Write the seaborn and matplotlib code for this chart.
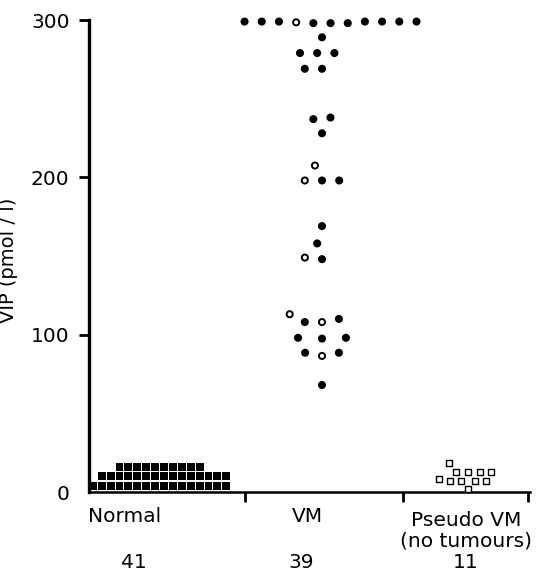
import matplotlib
matplotlib.use("Agg")
import matplotlib.pyplot as plt
import numpy as np
import seaborn as sns

# plasma VIP (pmol/l), one value per subject
normal_vip = [4, 4, 4, 4, 4, 4, 4, 4, 4, 4, 4, 4, 4, 4, 4, 4,
              10, 10, 10, 10, 10, 10, 10, 10, 10, 10, 10, 10, 10, 10, 10,
              16, 16, 16, 16, 16, 16, 16, 16, 16, 16]
vm_vip = [299, 299, 299, 299, 299, 298.5, 299, 299, 298, 298, 298,
          289, 279, 279, 279, 269, 269, 238, 237, 228, 207.5,
          198, 198, 198, 169, 158, 149, 148,
          113, 108, 110, 108, 98, 98, 97.5, 88.5, 86.5, 88.5, 68]
vm_open = [False, False, False, False, False, True, False, False, False, False, False,
           False, False, False, False, False, False, False, False, False, True,
           False, False, True, False, False, True, False,
           True, False, False, True, False, False, False, False, True, False, False]
pseudo_vip = [18.5, 13, 13, 13, 13, 8, 7, 7, 7, 7, 2]

group_names = ["Normal", "VM", "Pseudo VM\n(no tumours)"]


def px(x):
    # horizontal pixel of the 536 px wide figure -> x data units
    return (x - 89) / 250


def ay(y):
    # vertical pixel -> axes fraction
    return (492 - y) / 472


sns.set_style("ticks", rc={"axes.edgecolor": "black", "xtick.color": "black",
                           "ytick.color": "black", "text.color": "black",
                           "axes.labelcolor": "black"})
plt.rcParams["font.family"] = ["DejaVu Sans"]

fig = plt.figure(figsize=(5.36, 5.71), dpi=100)
ax = fig.add_axes([89 / 536, 79 / 571, 441 / 536, 472 / 571])

# swarm layout uses a wide spacing; markers are shrunk after layout
groups = [(normal_vip, px(164), "s", 6.1),
          (vm_vip, px(322), "o", 11.8),
          (pseudo_vip, px(468), "s", 7.6)]
colls = []
for vals, xc, mk, gap in groups:
    sns.swarmplot(x=np.full(len(vals), xc), y=vals, native_scale=True, orient="x",
                  color="black", marker=mk, size=gap, linewidth=0, ax=ax,
                  clip_on=False, zorder=3)
    colls.append(ax.collections[-1])

ax.set_xlim(0, px(530))
ax.set_ylim(0, 300)
ax.set_yticks([0, 100, 200, 300])
ax.set_xticks([px(245), px(403), px(528)])
ax.set_xticklabels([])
ax.tick_params(axis="y", direction="out", length=7, width=2, labelsize=14.5, pad=7)
ax.tick_params(axis="x", direction="out", length=7, width=2)
ax.yaxis.get_major_ticks()[0].tick1line.set_visible(False)
sns.despine(ax=ax)
ax.spines["left"].set_linewidth(2.4)
ax.spines["bottom"].set_linewidth(1.8)

ax.set_ylabel("VIP (pmol / l)", fontsize=14)
ax.yaxis.set_label_coords((18 - 89) / 441, ay(260))

xf = ax.get_xaxis_transform()
counts = [len(normal_vip), len(vm_vip), len(pseudo_vip)]
label_x = [px(125), px(307), px(466)]
count_x = [px(134), px(301), px(466)]
label_y = [ay(516), ay(516), ay(531)]
for name, n, lx, cx, ly in zip(group_names, counts, label_x, count_x, label_y):
    ax.text(lx, ly, name, transform=xf, ha="center", va="center",
            fontsize=14.5, linespacing=1.1, clip_on=False)
    ax.text(cx, ay(563), str(n), transform=xf, ha="center", va="center",
            fontsize=14.5, clip_on=False)

# let seaborn place the swarms, then freeze them and draw the real markers
fig.canvas.draw()
for c in colls:
    if "draw" in vars(c):
        del c.draw

normal_c, vm_c, pseudo_c = colls
normal_c.set_sizes([5.7 ** 2])
normal_c.set_facecolor("black")
normal_c.set_edgecolor("none")

is_open = np.array(vm_open)
vm_c.set_sizes(np.where(is_open, 4.4 ** 2, 5.8 ** 2))
vm_c.set_facecolors(["white" if o else "black" for o in vm_open])
vm_c.set_edgecolors("black")
vm_c.set_linewidths(np.where(is_open, 1.4, 0.0))

pseudo_c.set_sizes([4.3 ** 2])
pseudo_c.set_facecolor("white")
pseudo_c.set_edgecolor("black")
pseudo_c.set_linewidths([1.0])

fig.savefig("out.png", dpi=100)
